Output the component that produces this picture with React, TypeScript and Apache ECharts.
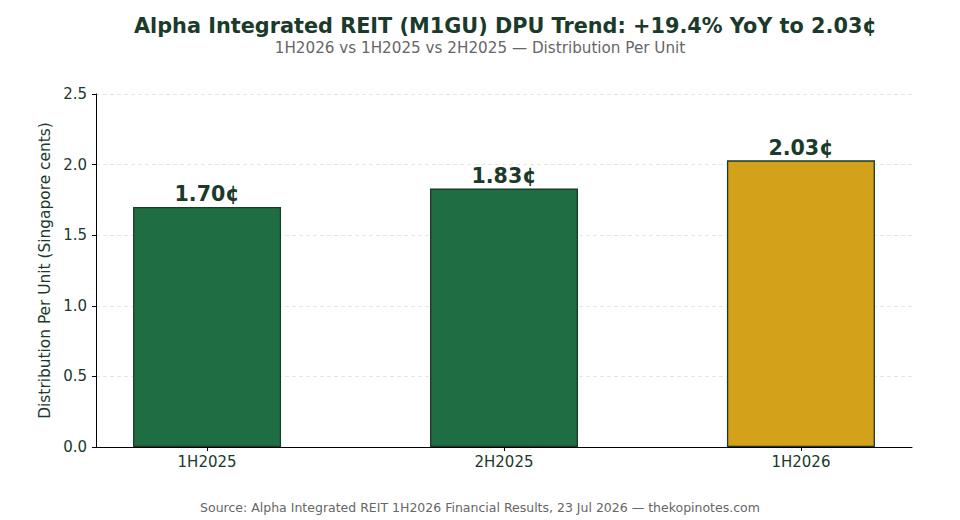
import React, { useEffect, useRef } from "react";
import * as echarts from "echarts";

const categories = ["1H2025", "2H2025", "1H2026"];
const dpuValues = [1.70, 1.83, 2.03];
const barColors = ["#1f6e43", "#1f6e43", "#d4a11a"];
const yTicks = [0, 0.5, 1.0, 1.5, 2.0, 2.5];

const TITLE = "Alpha Integrated REIT (M1GU) DPU Trend: +19.4% YoY to 2.03¢";
const SUBTITLE = "1H2026 vs 1H2025 vs 2H2025 — Distribution Per Unit";
const SOURCE = "Source: Alpha Integrated REIT 1H2026 Financial Results, 23 Jul 2026 — thekopinotes.com";

const FONT = "DejaVu Sans";
const DARK = "#1a3a2a";

export default function App() {
  const ref = useRef<HTMLDivElement>(null);
  useEffect(() => {
    document.body.style.margin = "0";
    const chart = echarts.init(ref.current!, null, { renderer: "svg" });
    const positions = categories.map((_, i) => i);
    chart.setOption({
      animation: false,
      backgroundColor: "#ffffff",
      textStyle: { fontFamily: FONT },
      title: [
        {
          text: TITLE,
          left: 129,
          top: 10,
          textStyle: { fontFamily: FONT, fontSize: 20.8, fontWeight: "bold", color: DARK },
        },
        {
          text: SUBTITLE,
          left: "center",
          top: 35,
          textStyle: { fontFamily: FONT, fontSize: 15.2, fontWeight: "normal", color: "#666666" },
        },
        {
          text: SOURCE,
          left: "center",
          top: 496,
          textStyle: { fontFamily: FONT, fontSize: 12.5, fontWeight: "normal", color: "#666666" },
        },
      ],
      grid: { left: 96, right: 48, top: 94, bottom: 73, containLabel: false },
      xAxis: {
        type: "value",
        min: -0.374,
        max: 2.374,
        splitLine: { show: false },
        axisLine: { show: true, onZero: false, lineStyle: { color: "#000000", width: 1 } },
        axisTick: { show: true, length: 4, lineStyle: { color: "#000000" }, customValues: positions },
        axisLabel: {
          show: true,
          customValues: positions,
          fontFamily: FONT,
          fontSize: 15,
          color: DARK,
          margin: 7,
          formatter: (v: number) => categories[Math.round(v)] ?? "",
        },
      },
      yAxis: {
        type: "value",
        min: 0,
        max: 2.5,
        interval: 0.5,
        name: "Distribution Per Unit (Singapore cents)",
        nameLocation: "middle",
        nameGap: 39,
        nameTextStyle: { fontFamily: FONT, fontSize: 15.4, color: DARK },
        axisLine: { show: true, onZero: false, lineStyle: { color: "#000000", width: 1 } },
        axisTick: { show: true, length: 4, lineStyle: { color: "#000000" } },
        axisLabel: {
          fontFamily: FONT,
          fontSize: 15,
          color: DARK,
          margin: 9,
          formatter: (v: number) => (yTicks.includes(v) ? v.toFixed(1) : ""),
        },
        splitLine: { show: true, lineStyle: { color: "#e0e0e0", type: [4, 3], width: 0.8 } },
      },
      series: [
        {
          type: "bar",
          barWidth: 148,
          data: dpuValues.map((v, i) => ({
            value: [positions[i], v],
            itemStyle: { color: barColors[i], borderColor: DARK, borderWidth: 1.3 },
          })),
          label: {
            show: true,
            position: "top",
            distance: 2,
            fontFamily: FONT,
            fontSize: 20.6,
            fontWeight: "bold",
            color: DARK,
            formatter: (p: any) => `${p.value[1].toFixed(2)}¢`,
          },
        },
      ],
    });
    return () => chart.dispose();
  }, []);
  return <div ref={ref} style={{ width: 960, height: 520 }} />;
}
